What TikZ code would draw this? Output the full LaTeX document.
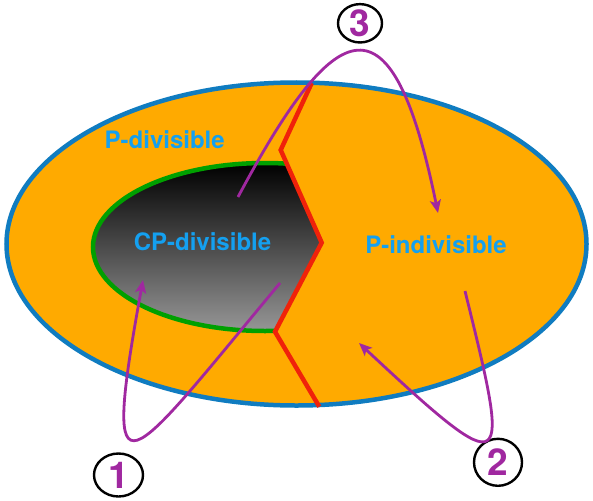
\documentclass[tikz,border=0pt]{standalone}
\usepackage{fontspec}
\setmainfont{TeX Gyre Heros}
\usetikzlibrary{arrows.meta,shapes.geometric}
\definecolor{orangefill}{RGB}{255,170,0}
\definecolor{outerblue}{RGB}{16,124,192}
\definecolor{textblue}{RGB}{20,160,240}
\definecolor{innergreen}{RGB}{0,160,0}
\definecolor{zigred}{RGB}{240,34,10}
\definecolor{arrowpurple}{RGB}{160,40,160}
\definecolor{lightgrey}{RGB}{150,150,150}
\tikzset{
  lbl/.style={text=textblue, font=\fontsize{24}{28}\selectfont\bfseries, inner sep=0pt},
  numcirc/.style={ellipse, draw=black, line width=2.4pt, text=arrowpurple,
    font=\fontsize{37}{37}\selectfont\bfseries, inner sep=0pt},
  loopconn/.style={draw=arrowpurple, line width=2.8pt,
    -{Stealth[length=13pt,width=11pt,inset=3pt]}},
}
\begin{document}
\begin{tikzpicture}[x=1pt,y=-1pt]
\useasboundingbox (0,0) rectangle (593,500);
% zigzag vertices
\coordinate (z1) at (311.7,83);
\coordinate (z2) at (280.7,150);
\coordinate (z3) at (321.7,242.7);
\coordinate (z4) at (275,331.7);
\coordinate (z5) at (319.3,406.7);
% outer region
\fill[orangefill] (296.5,244) ellipse [x radius=290, y radius=161.5];
% inner CP-divisible region
\begin{scope}
  \clip (0,83) -- (z1) -- (z2) -- (z3) -- (z4) -- (z5) -- (0,406.7) -- cycle;
  \shade[top color=black, bottom color=lightgrey] (265,247) ellipse [x radius=172, y radius=84];
  \draw[innergreen, line width=4.5pt] (265,247) ellipse [x radius=172, y radius=84];
\end{scope}
\draw[outerblue, line width=4.5pt] (296.5,244) ellipse [x radius=290, y radius=161.5];
\draw[zigred, line width=4.5pt, line join=miter] (z1) -- (z2) -- (z3) -- (z4) -- (z5);
% labels
\node[lbl] (pdiv) at (164.7,140) {P-divisible};
\node[lbl] (cpdiv) at (202.5,241.7) {CP-divisible};
\node[lbl] (pindiv) at (436,245) {P-indivisible};
% numbers
\node[numcirc, minimum width=49pt, minimum height=43pt] (n1) at (118.5,475) {1};
\node[numcirc, minimum width=48pt, minimum height=47pt] (n2) at (498,462.3) {2};
\node[numcirc, minimum width=44pt, minimum height=35pt] (n3) at (360,23.3) {3};
% connector end points
\coordinate (s1) at (280,283);
\coordinate (e1) at (143,280);
\coordinate (s2) at (465,291);
\coordinate (e2) at (359,343);
\coordinate (s3) at (238,197);
\coordinate (e3) at (438,213);
\draw[loopconn] (s1) .. controls (126,468) and (100,515) .. (e1);
\draw[loopconn] (s2) .. controls (510.6,475.3) and (512,486) .. (e2);
\draw[loopconn] (s3) .. controls (336.7,12.2) and (392,-12) .. (e3);
\end{tikzpicture}
\end{document}
